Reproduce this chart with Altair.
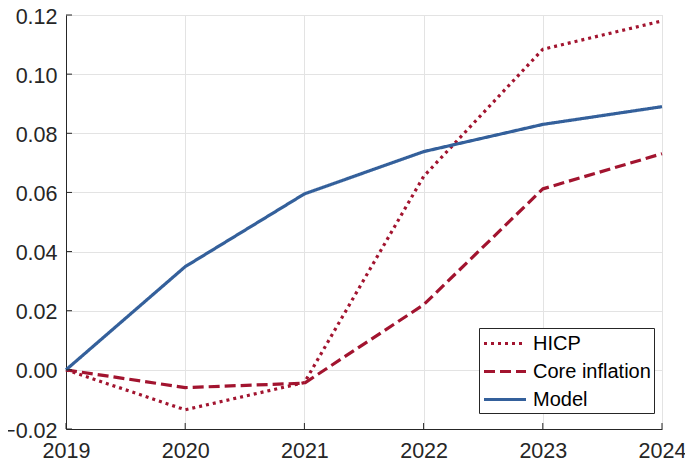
import altair as alt
import pandas as pd

years = [2019, 2020, 2021, 2022, 2023, 2024]
hicp = [0.0, -0.0135, -0.0043, 0.0654, 0.1084, 0.1180]
core = [0.0, -0.0060, -0.0045, 0.0220, 0.0612, 0.0731]
model = [0.0, 0.0349, 0.0595, 0.0738, 0.0830, 0.0890]
series_names = ["HICP", "Core inflation", "Model"]
y_ticks = [-0.02, 0.0, 0.02, 0.04, 0.06, 0.08, 0.10, 0.12]

rows = []
for name, vals in zip(series_names, [hicp, core, model]):
    for yr, v in zip(years, vals):
        rows.append({"year": yr, "value": v, "series": name})
df = pd.DataFrame(rows)

W, H = 596, 414
FONT = "Liberation Sans"
TXT = "#262626"

xscale = alt.Scale(domain=[2019, 2024], nice=False, zero=False)
yscale = alt.Scale(domain=[-0.02, 0.12], nice=False, zero=False)

lines = alt.Chart(df).mark_line(strokeWidth=3.2, strokeCap="butt", strokeJoin="round").encode(
    x=alt.X("year:Q", scale=xscale,
            axis=alt.Axis(values=years, format="d", title=None, grid=True,
                          gridColor="#e3e3e3", gridWidth=1, ticks=False, tickSize=0,
                          domainColor=TXT, domainWidth=1, labelFont=FONT,
                          labelFontSize=21.5, labelColor=TXT, labelPadding=11,
                          labelFlush=False, labelOverlap=False)),
    y=alt.Y("value:Q", scale=yscale,
            axis=alt.Axis(values=y_ticks, format=".2f", title=None, grid=True,
                          gridColor="#e3e3e3", gridWidth=1, ticks=False, tickSize=0,
                          domainColor=TXT, domainWidth=1, labelFont=FONT,
                          labelFontSize=21.5, labelColor=TXT, labelPadding=9,
                          labelOffset=2,
                          labelFlush=False, labelOverlap=False)),
    color=alt.Color("series:N",
                    scale=alt.Scale(domain=series_names,
                                    range=["#a2142f", "#a2142f", "#34609b"]),
                    legend=alt.Legend(title=None, orient="none", legendX=413, legendY=313,
                                      symbolType="M-1,0H3", symbolSize=441,
                                      symbolStrokeWidth=3.2, labelFont=FONT,
                                      labelFontSize=20, labelColor="black",
                                      labelOffset=26, rowPadding=5,
                                      padding=3, strokeColor=TXT, fillColor="white",
                                      cornerRadius=0, labelLimit=300)),
    strokeDash=alt.StrokeDash("series:N",
                              scale=alt.Scale(domain=series_names,
                                              range=[[3, 4], [11, 5], [1, 0]]),
                              legend=alt.Legend(title=None, orient="none", legendX=413,
                                                legendY=313)),
    order=alt.Order("year:Q"),
)

xt = pd.DataFrame({"year": years})
x_ticks = alt.Chart(xt).mark_rule(color=TXT, strokeWidth=1).encode(
    x=alt.X("year:Q", scale=xscale), y=alt.value(H), y2=alt.value(H - 6))

yt = pd.DataFrame({"value": y_ticks})
y_tickmarks = alt.Chart(yt).mark_rule(color=TXT, strokeWidth=1).encode(
    y=alt.Y("value:Q", scale=yscale), x=alt.value(0), x2=alt.value(6))

chart = alt.layer(lines, x_ticks, y_tickmarks).properties(
    width=W, height=H,
    autosize=alt.AutoSizeParams(type="none"),
    padding={"left": 58, "top": 7, "right": 23, "bottom": 32},
).configure_view(stroke=None).configure(background="white")

chart.save("out.html", embed_options={"renderer": "svg", "actions": False})
